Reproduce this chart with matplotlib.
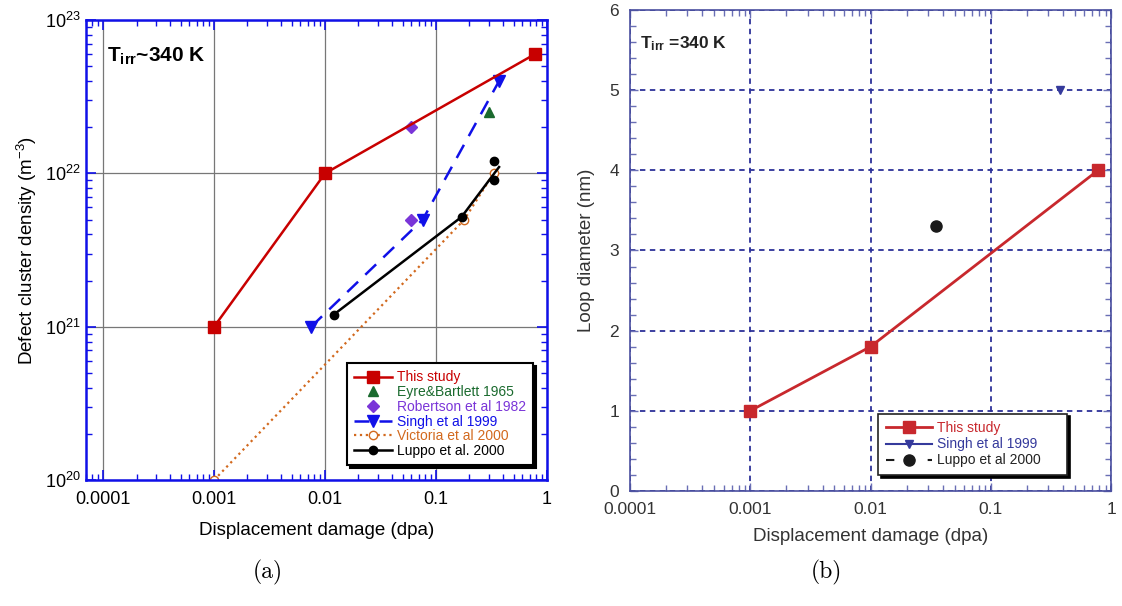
import numpy as np
import matplotlib
matplotlib.use("Agg")
import matplotlib.pyplot as plt
from matplotlib.ticker import LogLocator, MultipleLocator, FixedLocator, FixedFormatter
from matplotlib.lines import Line2D

plt.rcParams['font.family'] = ['Liberation Sans', 'DejaVu Sans']
plt.rcParams['mathtext.fontset'] = 'custom'
plt.rcParams['mathtext.rm'] = 'Liberation Sans'
plt.rcParams['mathtext.it'] = 'Liberation Sans:italic'
plt.rcParams['mathtext.bf'] = 'Liberation Sans:bold'

# (a) defect cluster density
this_x = [0.001, 0.01, 0.78]
this_y = [1e21, 1e22, 6e22]
eyre_x = [0.3]
eyre_y = [2.5e22]
rob_x = [0.06, 0.06]
rob_y = [2e22, 5e21]
singh_x = [0.0075, 0.076, 0.37]
singh_y = [1e21, 5e21, 4e22]
vic_x = [0.001, 0.18, 0.33]
vic_y = [1e20, 5e21, 1e22]
luppo_x = [0.012, 0.17, 0.37]
luppo_y = [1.2e21, 5.2e21, 1.1e22]
luppo_pts_x = [0.33, 0.33]
luppo_pts_y = [1.2e22, 9e21]

# (b) loop diameter
b_this_x = [0.001, 0.01, 0.78]
b_this_y = [1.0, 1.8, 4.0]
b_singh_x = [0.38]
b_singh_y = [5.0]
b_luppo_x = [0.035]
b_luppo_y = [3.3]

decade_ticks = [0.0001, 0.001, 0.01, 0.1, 1]
decade_labels = ['0.0001', '0.001', '0.01', '0.1', '1']

fig = plt.figure(figsize=(11.22, 6.06), dpi=100)

# ---------- panel (a)
ax = fig.add_axes([0.0766, 0.2079, 0.4109, 0.759])
blue = '#1010e8'
ax.plot(this_x, this_y, '-s', color='#c80000', lw=1.8, ms=8, label='This study', zorder=5)
ax.plot(eyre_x, eyre_y, '^', color='#1a6a2e', ms=7, ls='none', label='Eyre&Bartlett 1965')
ax.plot(rob_x, rob_y, 'D', color='#7a35d8', ms=6, ls='none', label='Robertson et al 1982')
ax.plot(singh_x, singh_y, '--v', color=blue, lw=1.8, ms=8, dashes=(6, 4), label='Singh et al 1999')
ax.plot(vic_x, vic_y, ':o', color='#d2691e', lw=1.6, ms=6, mfc='white', label='Victoria et al 2000')
ax.plot(luppo_x, luppo_y, '-o', color='black', lw=1.8, ms=6, markevery=[0, 1], label='Luppo et al. 2000')
ax.plot(luppo_pts_x, luppo_pts_y, 'o', color='black', ms=6, ls='none')

ax.set_xscale('log')
ax.set_yscale('log')
ax.set_xlim(7e-5, 1)
ax.set_ylim(1e20, 1e23)
ax.xaxis.set_major_locator(FixedLocator(decade_ticks))
ax.xaxis.set_major_formatter(FixedFormatter(decade_labels))
ax.xaxis.set_minor_locator(LogLocator(base=10, subs=np.arange(2, 10), numticks=20))
ax.yaxis.set_minor_locator(LogLocator(base=10, subs=np.arange(2, 10), numticks=20))
ax.grid(True, which='major', color='#777777', lw=0.9)
ax.tick_params(which='both', direction='in', top=True, right=True, color=blue, labelsize=13)
ax.tick_params(axis='x', pad=8)
ax.tick_params(axis='y', pad=4)
ax.tick_params(which='major', length=7, width=1.2)
ax.tick_params(which='minor', length=4, width=1.0)
for s in ax.spines.values():
    s.set_color(blue)
    s.set_linewidth(1.8)
ax.set_xlabel('Displacement damage (dpa)', fontsize=13.5, labelpad=10)
ax.set_ylabel('Defect cluster density (m$^{-3}$)', fontsize=13.5, labelpad=4)
ax.text(0.045, 0.945, r'$\mathbf{T_{irr}}$~340 K', transform=ax.transAxes,
        fontsize=15, fontweight='bold', va='top', ha='left')

leg = ax.legend(loc='lower right', bbox_to_anchor=(0.97, 0.033), borderaxespad=0, fontsize=10,
                fancybox=False, edgecolor='black', framealpha=1,
                shadow={'color': 'black', 'alpha': 1}, handlelength=2.7,
                labelspacing=0.05, borderpad=0.5, handletextpad=0.4)
leg.get_frame().set_linewidth(1.5)
for t, c in zip(leg.get_texts(), ['#c80000', '#1a6a2e', '#7a35d8', blue, '#d2691e', 'black']):
    t.set_color(c)

fig.text(0.2389, 0.045, '(a)', fontfamily='cmr10', fontsize=17, ha='center')

# ---------- panel (b)
bx = fig.add_axes([0.5615, 0.1898, 0.4287, 0.7937])
navy = '#2d3199'
bx.plot(b_this_x, b_this_y, '-s', color='#c8282d', lw=2, ms=8, zorder=5)
bx.plot(b_singh_x, b_singh_y, 'v', color='#353a9c', ms=6, ls='none')
bx.plot(b_luppo_x, b_luppo_y, 'o', color='#1a1a1a', ms=8, ls='none')

bx.set_xscale('log')
bx.set_xlim(1e-4, 1)
bx.set_ylim(0, 6)
bx.xaxis.set_major_locator(FixedLocator(decade_ticks))
bx.xaxis.set_major_formatter(FixedFormatter(decade_labels))
bx.xaxis.set_minor_locator(LogLocator(base=10, subs=np.arange(2, 10), numticks=20))
bx.yaxis.set_major_locator(MultipleLocator(1))
bx.yaxis.set_minor_locator(MultipleLocator(0.2))
bx.grid(True, which='major', color=navy, lw=1.3, ls=(0, (3, 2.5)))
bx.tick_params(which='both', direction='in', top=True, right=True, color='#6a6fb5',
               labelsize=12.5, labelcolor='#333333', pad=8)
bx.tick_params(which='major', length=6, width=1.0)
bx.tick_params(which='minor', length=4, width=1.0)
for s in bx.spines.values():
    s.set_color('#4a4f9f')
    s.set_linewidth(1.2)
bx.set_xlabel('Displacement damage (dpa)', fontsize=13.5, color='#333333', labelpad=8)
bx.set_ylabel('Loop diameter (nm)', fontsize=13.5, color='#333333', labelpad=10)
bx.text(0.02, 0.95, r'$\mathbf{T_{irr}}$ =340 K', transform=bx.transAxes,
        fontsize=12.5, fontweight='bold', va='top', ha='left', color='#222222')

h = [Line2D([], [], color='#c8282d', lw=2, marker='s', ms=8),
     Line2D([], [], color='#353a9c', lw=1.5, marker='v', ms=6),
     Line2D([], [], color='#1a1a1a', lw=1.5, ls=(0, (4, 6)), marker='o', ms=8)]
leg2 = bx.legend(h, ['This study', 'Singh et al 1999', 'Luppo et al 2000'],
                 loc='lower left', bbox_to_anchor=(0.516, 0.033, 0.393, 0.1), mode='expand',
                 borderaxespad=0, fontsize=10,
                 fancybox=False, edgecolor='#222222', framealpha=1,
                 shadow={'color': 'black', 'alpha': 1}, handlelength=3.3,
                 labelspacing=0.15, borderpad=0.55, handletextpad=0.4)
leg2.get_frame().set_linewidth(1.2)
for t, c in zip(leg2.get_texts(), ['#c8282d', '#353a9c', '#222222']):
    t.set_color(c)

fig.text(0.7362, 0.045, '(b)', fontfamily='cmr10', fontsize=17, ha='center')

fig.savefig('out.png', dpi=100)
